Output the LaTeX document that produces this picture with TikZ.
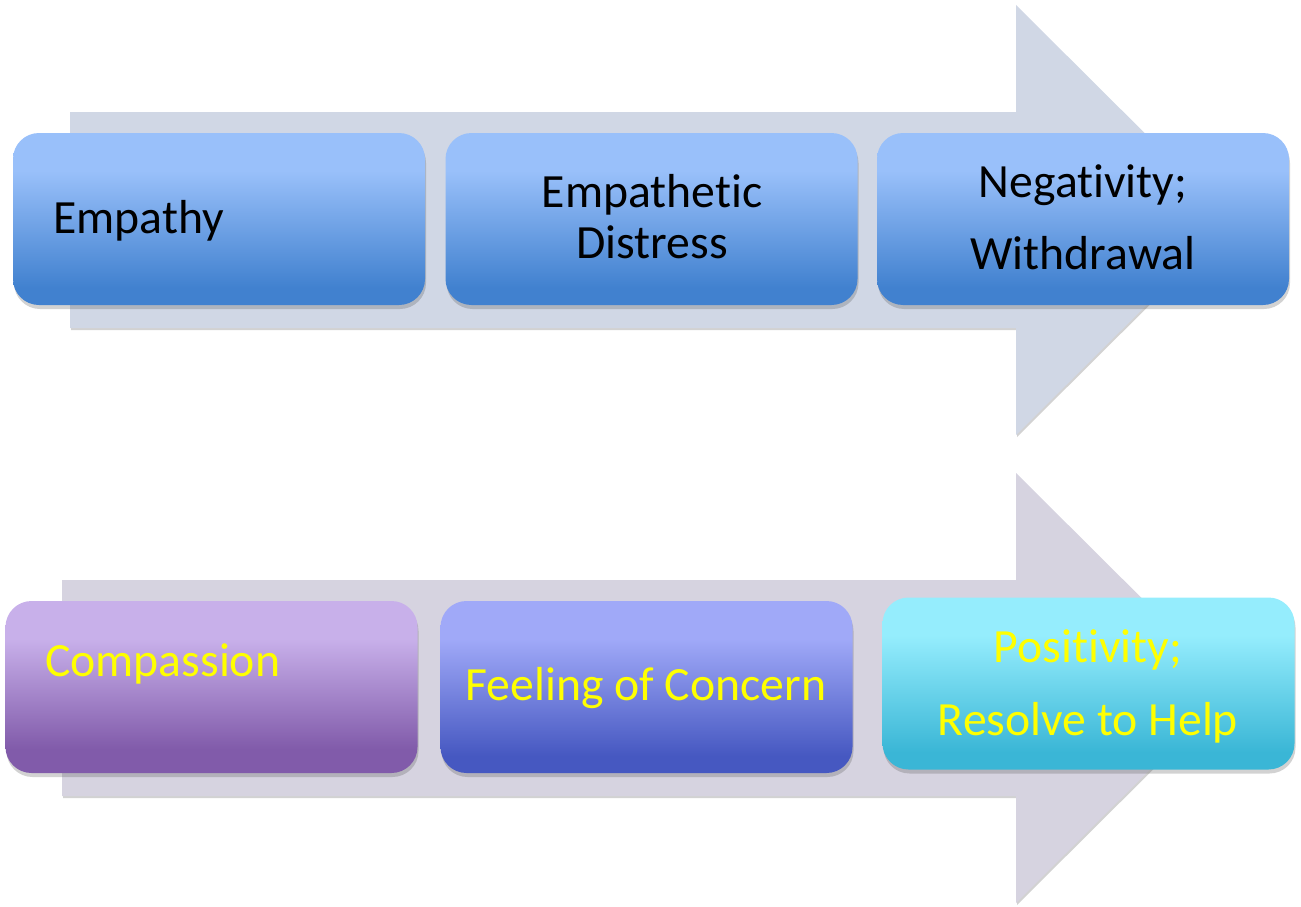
\documentclass[tikz,border=0pt]{standalone}
\usepackage{fontspec}
\setmainfont[RawFeature={-liga,-clig,-dlig,-calt}]{Carlito}
\usetikzlibrary{shadows}
\definecolor{arrowA}{HTML}{D0D7E5}
\definecolor{arrowB}{HTML}{D6D3E0}
\definecolor{txtyellow}{HTML}{FFFF00}
\newcommand{\nolig}{\kern0pt }
\pgfdeclareverticalshading{shEmp}{100bp}{rgb(0bp)=(0.255,0.506,0.812); rgb(30bp)=(0.255,0.506,0.812); rgb(64bp)=(0.600,0.753,0.980); rgb(100bp)=(0.600,0.753,0.980)}
\pgfdeclareverticalshading{shCom}{100bp}{rgb(0bp)=(0.506,0.357,0.667); rgb(32bp)=(0.506,0.357,0.667); rgb(64bp)=(0.784,0.690,0.918); rgb(100bp)=(0.784,0.690,0.918)}
\pgfdeclareverticalshading{shFee}{100bp}{rgb(0bp)=(0.275,0.345,0.757); rgb(30bp)=(0.275,0.345,0.757); rgb(64bp)=(0.627,0.663,0.973); rgb(100bp)=(0.627,0.663,0.973)}
\pgfdeclareverticalshading{shPos}{100bp}{rgb(0bp)=(0.227,0.714,0.839); rgb(30bp)=(0.227,0.714,0.839); rgb(64bp)=(0.584,0.929,0.992); rgb(100bp)=(0.584,0.929,0.992)}
\tikzset{
  box/.style={rectangle, rounded corners=26pt, minimum width=412pt, minimum height=172pt,
    inner sep=0pt, draw=none, drop shadow={shadow xshift=1pt, shadow yshift=-4pt, opacity=0.25, fill=black!70}},
  bigarrow/.style={draw=none, drop shadow={shadow xshift=1pt, shadow yshift=-2pt, opacity=0.25, fill=black!70}},
  lbl/.style={inner sep=0pt, font=\fontsize{47.7}{52}\selectfont},
  darklbl/.style={lbl, text=black},
  ylbl/.style={lbl, text=txtyellow},
}
\begin{document}
\begin{tikzpicture}[x=1pt, y=-1pt]
\useasboundingbox (0,0) rectangle (1301,907);
% arrows
\path[bigarrow, fill=arrowA] (70,112) -- (1016,112) -- (1016,5) -- (1232,220) -- (1016,435) -- (1016,328) -- (70,328) -- cycle;
\path[bigarrow, fill=arrowB] (62,580) -- (1016,580) -- (1016,473) -- (1232,688) -- (1016,903) -- (1016,796) -- (62,796) -- cycle;
% top boxes
\node[box, shading=shEmp] (b1) at (219,219) {};
\node[box, shading=shEmp] (b2) at (651.5,219) {};
\node[box, shading=shEmp] (b3) at (1083,219) {};
% bottom boxes
\node[box, shading=shCom] (c1) at (211.5,687) {};
\node[box, shading=shFee] (c2) at (646.5,687) {};
\node[box, shading=shPos] (c3) at (1088.5,683.5) {};
% labels
\node[darklbl, anchor=base west] (t1) at (53,233) {Empathy};
\node[darklbl, anchor=base] (t2a) at (652,207) {Empathet\nolig ic};
\node[darklbl, anchor=base] (t2b) at (652,258) {Distress};
\node[darklbl, anchor=base] (t3a) at (1083,197) {Negat\nolig ivity;};
\node[darklbl, anchor=base] (t3b) at (1083,269) {Withdrawal};
\node[ylbl, anchor=base west] (u1) at (45,676) {Compassion};
\node[ylbl, anchor=base] (u2) at (646,700) {Feeling of Concern};
\node[ylbl, anchor=base] (u3a) at (1088,662) {Posit\nolig ivity;};
\node[ylbl, anchor=base] (u3b) at (1088,735) {Resolve to Help};
\end{tikzpicture}
\end{document}
